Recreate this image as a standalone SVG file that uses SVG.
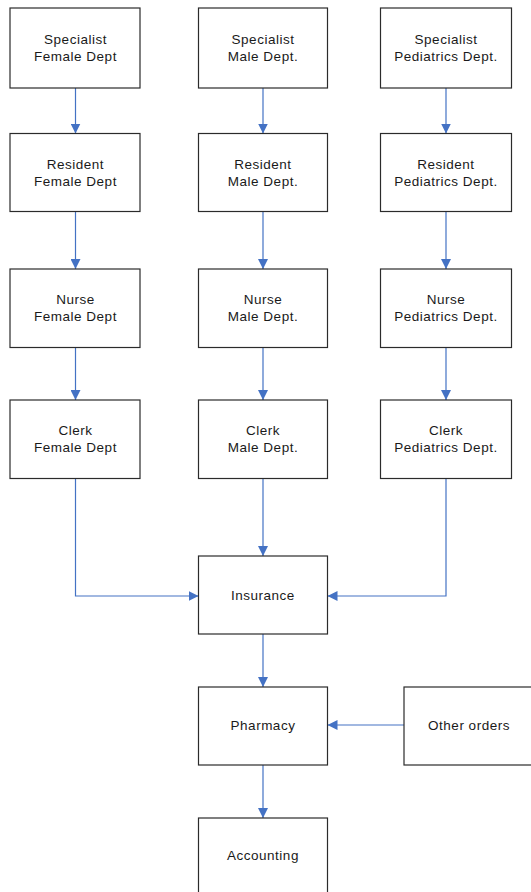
<svg xmlns="http://www.w3.org/2000/svg" width="531" height="892" viewBox="0 0 531 892">
<style>
.box{fill:#fff;stroke:#2b2b2b;stroke-width:1.2}
.t{font-family:"Liberation Sans",Arial,sans-serif;font-size:13.5px;fill:#1a1a1a;text-anchor:middle;letter-spacing:0.5px}
.c{fill:none;stroke:#4472C4;stroke-width:1.2}
</style>
<defs>
<marker id="ah" viewBox="0 0 10 10" refX="10" refY="5" markerUnits="userSpaceOnUse" markerWidth="10" markerHeight="10" orient="auto">
<path d="M0,0 L10,5 L0,10 z" fill="#4472C4"/>
</marker>
</defs>
<rect width="531" height="892" fill="#fff"/>
<g id="connectors">
<path class="c" marker-end="url(#ah)" d="M75.5 88 V133.5"/>
<path class="c" marker-end="url(#ah)" d="M75.5 211.5 V269"/>
<path class="c" marker-end="url(#ah)" d="M75.5 347.5 V400"/>
<path class="c" marker-end="url(#ah)" d="M263 88 V133.5"/>
<path class="c" marker-end="url(#ah)" d="M263 211.5 V269"/>
<path class="c" marker-end="url(#ah)" d="M263 347.5 V400"/>
<path class="c" marker-end="url(#ah)" d="M446 88 V133.5"/>
<path class="c" marker-end="url(#ah)" d="M446 211.5 V269"/>
<path class="c" marker-end="url(#ah)" d="M446 347.5 V400"/>
<path class="c" marker-end="url(#ah)" d="M75.5 478.5 V596 H198.5"/>
<path class="c" marker-end="url(#ah)" d="M263 478.5 V556"/>
<path class="c" marker-end="url(#ah)" d="M446 478.5 V596 H327.5"/>
<path class="c" marker-end="url(#ah)" d="M263 634 V687"/>
<path class="c" marker-end="url(#ah)" d="M404 725 H327.5"/>
<path class="c" marker-end="url(#ah)" d="M263 765 V818"/>
</g>
<g id="spec-female"><rect class="box" x="10" y="8" width="130" height="80"/><text class="t" x="75.5" y="44">Specialist</text><text class="t" x="75.5" y="61">Female Dept</text></g>
<g id="spec-male"><rect class="box" x="198.5" y="8" width="129" height="80"/><text class="t" x="263" y="44">Specialist</text><text class="t" x="263" y="61">Male Dept.</text></g>
<g id="spec-ped"><rect class="box" x="380.5" y="8" width="131" height="80"/><text class="t" x="446" y="44">Specialist</text><text class="t" x="446" y="61">Pediatrics Dept.</text></g>
<g id="res-female"><rect class="box" x="10" y="133.5" width="130" height="78"/><text class="t" x="75.5" y="169">Resident</text><text class="t" x="75.5" y="186">Female Dept</text></g>
<g id="res-male"><rect class="box" x="198.5" y="133.5" width="129" height="78"/><text class="t" x="263" y="169">Resident</text><text class="t" x="263" y="186">Male Dept.</text></g>
<g id="res-ped"><rect class="box" x="380.5" y="133.5" width="131" height="78"/><text class="t" x="446" y="169">Resident</text><text class="t" x="446" y="186">Pediatrics Dept.</text></g>
<g id="nurse-female"><rect class="box" x="10" y="269" width="130" height="78.5"/><text class="t" x="75.5" y="304">Nurse</text><text class="t" x="75.5" y="321">Female Dept</text></g>
<g id="nurse-male"><rect class="box" x="198.5" y="269" width="129" height="78.5"/><text class="t" x="263" y="304">Nurse</text><text class="t" x="263" y="321">Male Dept.</text></g>
<g id="nurse-ped"><rect class="box" x="380.5" y="269" width="131" height="78.5"/><text class="t" x="446" y="304">Nurse</text><text class="t" x="446" y="321">Pediatrics Dept.</text></g>
<g id="clerk-female"><rect class="box" x="10" y="400" width="130" height="78.5"/><text class="t" x="75.5" y="435">Clerk</text><text class="t" x="75.5" y="452">Female Dept</text></g>
<g id="clerk-male"><rect class="box" x="198.5" y="400" width="129" height="78.5"/><text class="t" x="263" y="435">Clerk</text><text class="t" x="263" y="452">Male Dept.</text></g>
<g id="clerk-ped"><rect class="box" x="380.5" y="400" width="131" height="78.5"/><text class="t" x="446" y="435">Clerk</text><text class="t" x="446" y="452">Pediatrics Dept.</text></g>
<g id="insurance"><rect class="box" x="198.5" y="556" width="129" height="78"/><text class="t" x="263" y="600">Insurance</text></g>
<g id="pharmacy"><rect class="box" x="198.5" y="687" width="129" height="78"/><text class="t" x="263" y="730">Pharmacy</text></g>
<g id="other-orders"><rect class="box" x="404" y="687" width="135" height="78"/><text class="t" x="469" y="730">Other orders</text></g>
<g id="accounting"><rect class="box" x="198.5" y="818" width="129" height="80"/><text class="t" x="263" y="860">Accounting</text></g>
</svg>
